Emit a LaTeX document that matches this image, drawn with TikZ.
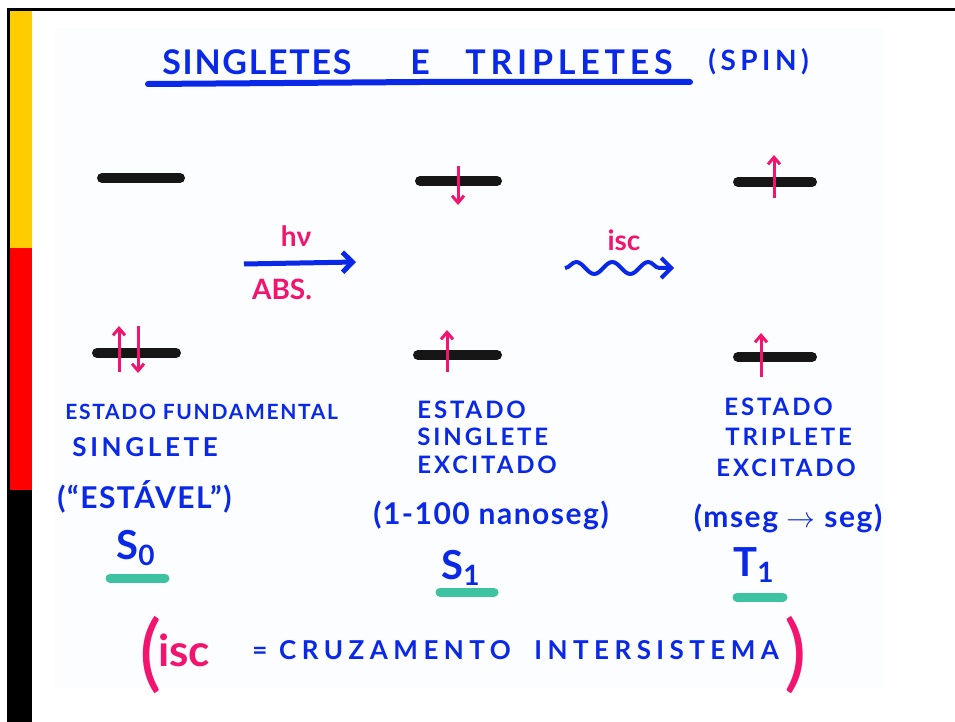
\documentclass[tikz,border=0pt]{standalone}
\usepackage{fontspec}
\usepackage{tikz}
\usetikzlibrary{arrows.meta,positioning,decorations.pathmorphing}
\setmainfont{Lato}
\definecolor{ink}{HTML}{0A28E8}
\definecolor{spinpink}{HTML}{F2146E}
\definecolor{marker}{HTML}{3DC2A2}
\definecolor{barblack}{HTML}{161616}
\definecolor{stripyellow}{HTML}{FFCC00}
\definecolor{stripred}{HTML}{FF0000}
\definecolor{paper}{HTML}{FCFDFF}
\tikzset{
  statetext/.style={text=ink,font=\bfseries\fontsize{12}{14}\selectfont\addfontfeature{LetterSpace=12},inner sep=0pt},
  timetext/.style={text=ink,font=\bfseries\fontsize{15}{18}\selectfont\addfontfeature{LetterSpace=5},inner sep=0pt},
  symtext/.style={text=ink,font=\bfseries\fontsize{20}{24}\selectfont,inner sep=0pt},
  pinktext/.style={text=spinpink,font=\bfseries\fontsize{14}{16}\selectfont,inner sep=0pt},
  titletext/.style={text=ink,font=\bfseries\fontsize{17}{20}\selectfont\addfontfeature{LetterSpace=8},inner sep=0pt},
  level/.style={draw=barblack,line width=5pt,line cap=round},
  spin/.style={-{Straight Barb[length=3.5pt,width=6pt]},draw=spinpink,line width=1.5pt},
  underbar/.style={draw=marker,line width=4.5pt,line cap=round},
  arrow/.style={-{Straight Barb[length=5pt,width=10pt]},draw=ink,line width=2.5pt},
  wavy/.style={arrow,line width=2pt,decorate,
    decoration={snake,amplitude=3pt,segment length=18pt,post length=6pt}}
}
\begin{document}
\begin{tikzpicture}[x=0.5pt,y=-0.5pt,node distance=6pt and 8pt]
  \useasboundingbox (0,0) rectangle (955,722);
  \fill[white] (0,0) rectangle (955,722);
  \fill[paper] (55,28) rectangle (885,688);
  \fill[stripyellow] (9,11) rectangle (32,248);
  \fill[stripred] (9,248) rectangle (32,490);
  \fill[black] (7,490) rectangle (32,722);
  \draw[black,line width=1.5pt] (8,722) -- (8,10) -- (955,10);

  \node[titletext,anchor=west,font=\bfseries\fontsize{17}{20}\selectfont\addfontfeature{LetterSpace=5}] (sing) at (162,62) {SINGLETES};
  \node[titletext,anchor=west] (e) at (410,62) {E};
  \node[titletext,anchor=west,font=\bfseries\fontsize{17}{20}\selectfont\addfontfeature{LetterSpace=14}] (trip) at (465,62) {TRIPLETES};
  \node[titletext,font=\bfseries\fontsize{14}{16}\selectfont\addfontfeature{LetterSpace=16},anchor=west] (spinw) at (708,62) {(SPIN)};
  \draw[ink,line width=3pt,line cap=round] (148,84) -- (420,82) -- (690,82);

  \draw[level] (102,178) -- (180,178);
  \draw[level] (97,353) -- (176,353);
  \draw[level] (420,181) -- (497,181);
  \draw[level] (418,355) -- (497,355);
  \draw[level] (738,182) -- (812,182);
  \draw[level] (738,357) -- (812,357);

  \draw[spin] (119,372) -- (119,326);
  \draw[spin] (138,326) -- (138,373);
  \draw[spin] (458,166) -- (458,205);
  \draw[spin] (447,372) -- (447,330);
  \draw[spin] (774,198) -- (774,155);
  \draw[spin] (761,377) -- (761,333);

  \coordinate (absL) at (244,264);
  \coordinate (absR) at (356,262);
  \draw[arrow] (absL) -- (absR);
  \node[pinktext] (hv) at (296,236) {hν};
  \node[pinktext] (abs) at (282,289) {ABS.};

  \coordinate (iscL) at (565,268);
  \coordinate (iscR) at (674,268);
  \draw[wavy] (iscL) -- (iscR);
  \node[pinktext] (isc) at (624,240) {isc};

  \node[statetext,anchor=west,font=\bfseries\fontsize{10.5}{13}\selectfont\addfontfeature{LetterSpace=8}] (fund) at (65,412) {ESTADO FUNDAMENTAL};
  \node[statetext,anchor=west,font=\bfseries\fontsize{13}{15}\selectfont\addfontfeature{LetterSpace=14}] (fsing) at (72,447) {SINGLETE};
  \node[timetext,anchor=west] (stab) at (57,497) {(``ESTÁVEL'')};
  \node[symtext] (s0) at (136,548) {S\textsubscript{0}};
  \draw[underbar] (110,578) -- (165,578);

  \node[statetext,anchor=west] (est1) at (417,410) {ESTADO};
  \node[statetext,anchor=west] (sing1) at (417,437) {SINGLETE};
  \node[statetext,anchor=west] (exc1) at (417,465) {EXCITADO};
  \node[timetext] (nano) at (491,515) {(1-100 nanoseg)};
  \node[symtext] (s1) at (461,568) {S\textsubscript{1}};
  \draw[underbar] (440,592) -- (494,592);

  \node[statetext,anchor=west] (est2) at (724,407) {ESTADO};
  \node[statetext,anchor=west] (trip2) at (725,437) {TRIPLETE};
  \node[statetext,anchor=west] (exc2) at (716,468) {EXCITADO};
  \node[timetext] (mseg) at (788,518) {(mseg $\rightarrow$ seg)};
  \node[symtext] (t1) at (754,565) {T\textsubscript{1}};
  \draw[underbar] (737,597) -- (783,597);

  \node[text=spinpink,font=\fontsize{42}{46}\selectfont,inner sep=0pt] (lpar) at (151,655) {(};
  \node[pinktext,font=\bfseries\fontsize{22}{24}\selectfont,anchor=west] (iscdef) at (158,650) {isc};
  \node[statetext,anchor=west,font=\bfseries\fontsize{13}{15}\selectfont\addfontfeature{LetterSpace=21}] (cruz) at (252,650) {= CRUZAMENTO\ \ INTERSISTEMA};
  \node[text=spinpink,font=\fontsize{42}{46}\selectfont,inner sep=0pt] (rpar) at (796,655) {)};
\end{tikzpicture}
\end{document}
